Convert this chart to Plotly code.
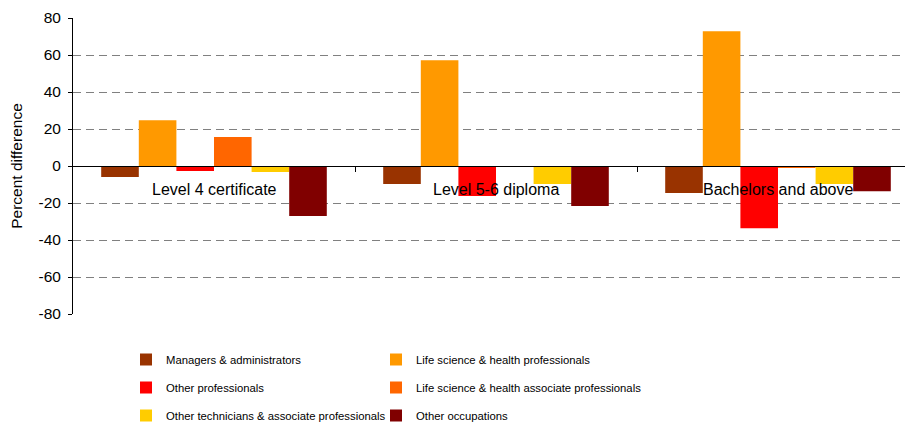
import plotly.graph_objects as go

categories = ["Level 4 certificate", "Level 5-6 diploma", "Bachelors and above"]
series_names = [
    "Managers & administrators",
    "Life science & health professionals",
    "Other professionals",
    "Life science & health associate professionals",
    "Other technicians & associate professionals",
    "Other occupations",
]
managers = [-6, -9.7, -14.6]
life_sci = [24.7, 57.2, 72.9]
other_prof = [-2.7, -16.2, -33.7]
life_sci_assoc = [15.7, None, -1.0]
other_tech = [-3.2, -9.7, -9.7]
other_occ = [-27, -21.6, -13.7]
colors = ["#993300", "#FF9900", "#FF0000", "#FF6600", "#FFCC00", "#800000"]
y_ticks = [80, 60, 40, 20, 0, -20, -40, -60, -80]
y_tick_text = ["80", "60", "40", "20", "0", "-20", "-40", "-60", "-80"]

series = [managers, life_sci, other_prof, life_sci_assoc, other_tech, other_occ]
legend_ids = ["legend", "legend2", "legend", "legend2", "legend", "legend2"]
xpos = list(range(len(categories)))

FONT = "Liberation Sans, Arial, sans-serif"

fig = go.Figure()
for i, (name, vals) in enumerate(zip(series_names, series)):
    fig.add_trace(go.Bar(
        x=xpos, y=vals, name=name,
        marker=dict(color=colors[i], line=dict(width=0)),
        legend=legend_ids[i], legendgroup=name,
    ))

for i, c in enumerate(categories):
    fig.add_annotation(x=xpos[i], y=-12.6, text=c, showarrow=False,
                       xref="x", yref="y", font=dict(size=16, color="#000000", family=FONT))

# page body adds an 8px offset; layout coordinates below compensate for it
ML, MT, MR, MB = 65, 10, 2, 119
PW = 913 - ML - MR
PH = 425 - MT - MB
leg_y = -(337 - (425 - MB)) / PH

fig.update_layout(
    width=913, height=425,
    margin=dict(l=ML, r=MR, t=MT, b=MB),
    paper_bgcolor="white", plot_bgcolor="white",
    font=dict(family=FONT, size=15.5, color="#000000"),
    barmode="group", bargap=0.2, bargroupgap=0,
    showlegend=True,
    xaxis=dict(
        type="linear", range=[-0.5, 2.5],
        anchor="free", position=0.5,
        showline=True, linecolor="#000000", linewidth=1,
        ticks="outside", ticklen=5, tickcolor="#000000",
        tickvals=[0.5, 1.5, 2.5], showticklabels=False,
        showgrid=False, zeroline=False,
    ),
    yaxis=dict(
        range=[-80, 80],
        tickvals=y_ticks, ticktext=y_tick_text,
        showline=True, linecolor="#000000", linewidth=1,
        ticks="outside", ticklen=4, tickcolor="#000000",
        ticklabelstandoff=4,
        showgrid=True, gridcolor="#808080", griddash="8px,5px", gridwidth=1,
        zeroline=True, zerolinecolor="#000000", zerolinewidth=1,
        title=dict(text="Percent difference", standoff=12, font=dict(size=15.5)),
        tickfont=dict(size=15.5),
    ),
    legend=dict(
        x=(118 - ML) / PW, y=leg_y, xanchor="left", yanchor="top",
        orientation="v", traceorder="grouped", tracegroupgap=9,
        font=dict(size=11.3, family=FONT), bgcolor="rgba(0,0,0,0)",
    ),
    legend2=dict(
        x=(368 - ML) / PW, y=leg_y, xanchor="left", yanchor="top",
        orientation="v", traceorder="grouped", tracegroupgap=9,
        font=dict(size=11.3, family=FONT), bgcolor="rgba(0,0,0,0)",
    ),
)

fig.write_html("out.html")
